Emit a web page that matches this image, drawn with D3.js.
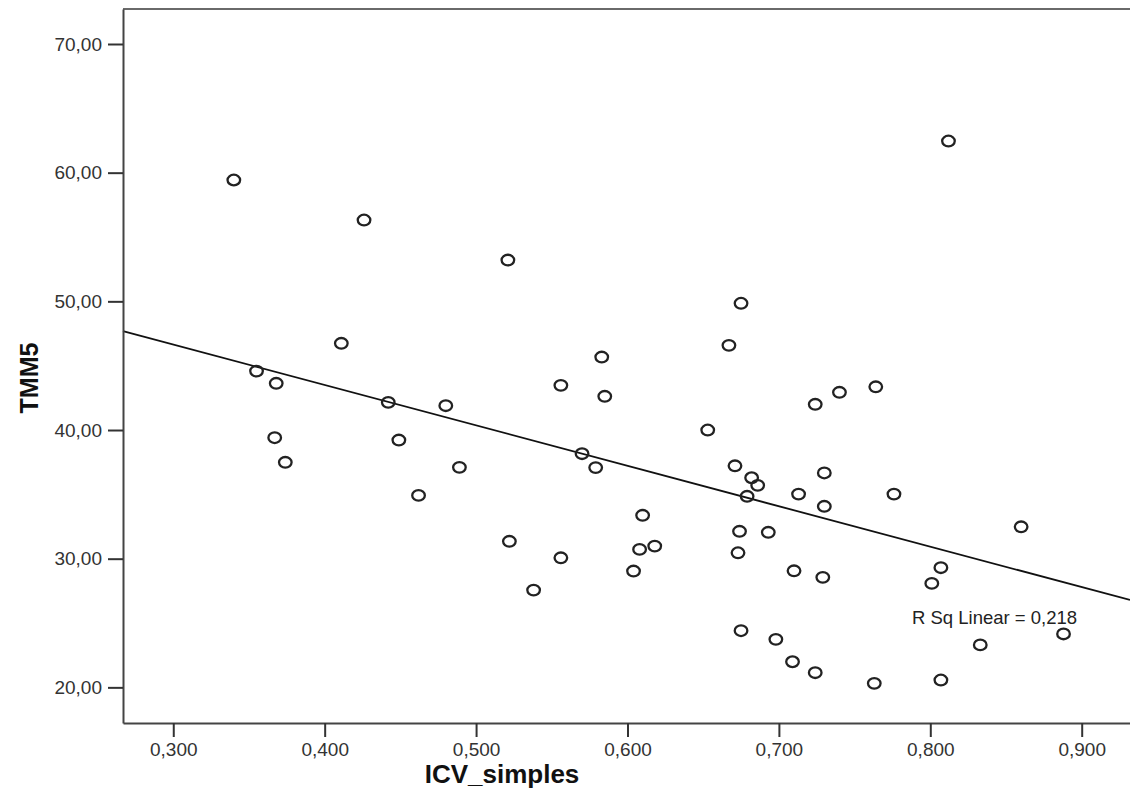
<!DOCTYPE html>
<html>
<head>
<meta charset="utf-8">
<script src="https://cdn.jsdelivr.net/npm/d3@7"></script>
<style>
    body { margin: 0; background: #fff; }
    text { font-family: "Liberation Sans", Arial, sans-serif; }
</style>
</head>
<body>
<svg width="1130" height="801"></svg>
<script>
// ICV_simples (x) and TMM5 (y)
const icv = [
    0.340, 0.426, 0.411, 0.355, 0.368, 0.442, 0.480, 0.367, 0.449, 0.374,
    0.489, 0.462, 0.521, 0.583, 0.556, 0.585, 0.570, 0.579, 0.610, 0.522,
    0.608, 0.618, 0.556, 0.604, 0.538, 0.675, 0.667, 0.740, 0.764, 0.724,
    0.653, 0.671, 0.682, 0.686, 0.679, 0.730, 0.713, 0.730, 0.776, 0.674,
    0.693, 0.673, 0.710, 0.729, 0.675, 0.698, 0.709, 0.724, 0.763, 0.812,
    0.860, 0.807, 0.801, 0.888, 0.833, 0.807
];
const tmm5 = [
    59.43, 56.32, 46.74, 44.58, 43.63, 42.15, 41.89, 39.40, 39.22, 37.49,
    37.10, 34.92, 53.21, 45.67, 43.47, 42.62, 38.16, 37.08, 33.37, 31.35,
    30.72, 30.98, 30.07, 29.04, 27.56, 49.85, 46.58, 42.93, 43.36, 42.00,
    40.00, 37.22, 36.29, 35.70, 34.85, 36.66, 35.02, 34.07, 35.02, 32.13,
    32.05, 30.46, 29.06, 28.55, 24.40, 23.73, 21.99, 21.14, 20.31, 62.46,
    32.48, 29.30, 28.08, 24.15, 23.30, 20.57
];

const xTicks = [0.3, 0.4, 0.5, 0.6, 0.7, 0.8, 0.9];
const yTicks = [20, 30, 40, 50, 60, 70];

// linear fit line as drawn (intercept, slope) and its R squared
const fitLine = [56.07, -31.42];
const rSquared = 0.218;

const margin = {top: 9, left: 123, bottom: 78};
const width = 1130;
const height = 801;

const svg = d3.select("svg");

const x = d3.scaleLinear()
    .domain([0.2668, 0.9319])
    .range([margin.left, width]);

const y = d3.scaleLinear()
    .domain([17.23, 72.72])
    .range([height - margin.bottom, margin.top]);

// comma as decimal separator
function commaFormat(digits) {
    const f = d3.format("." + digits + "f");
    return d => f(d).replace(".", ",");
}

// top frame line
svg.append("line")
    .attr("x1", margin.left)
    .attr("x2", width)
    .attr("y1", margin.top)
    .attr("y2", margin.top)
    .attr("stroke", "#6a6a6a")
    .attr("stroke-width", 2);

// fit line
const xs = x.domain();
svg.append("line")
    .attr("x1", x(xs[0]))
    .attr("y1", y(fitLine[0] + fitLine[1] * xs[0]))
    .attr("x2", x(xs[1]))
    .attr("y2", y(fitLine[0] + fitLine[1] * xs[1]))
    .attr("stroke", "#111")
    .attr("stroke-width", 1.8);

// points
svg.selectAll(".dot")
    .data(icv.map((d, i) => ({x: d, y: tmm5[i]})))
    .enter()
    .append("ellipse")
    .attr("class", "dot")
    .attr("cx", d => x(d.x))
    .attr("cy", d => y(d.y))
    .attr("rx", 6.3)
    .attr("ry", 5.3)
    .attr("fill", "none")
    .attr("stroke", "#222")
    .attr("stroke-width", 2.3);

// axes
const xAxis = svg.append("g")
    .attr("transform", "translate(0," + (height - margin.bottom) + ")")
    .call(d3.axisBottom(x)
        .tickValues(xTicks)
        .tickFormat(commaFormat(3))
        .tickSize(14)
        .tickSizeOuter(0)
        .tickPadding(6));

const yAxis = svg.append("g")
    .attr("transform", "translate(" + margin.left + ",0)")
    .call(d3.axisLeft(y)
        .tickValues(yTicks)
        .tickFormat(commaFormat(2))
        .tickSize(15)
        .tickSizeOuter(0)
        .tickPadding(6));

[xAxis, yAxis].forEach(function (g) {
    g.select(".domain").attr("stroke", "#444").attr("stroke-width", 2);
    g.selectAll(".tick line").attr("stroke", "#333").attr("stroke-width", 2);
    g.selectAll(".tick text")
        .attr("fill", "#333")
        .style("font-size", "19px")
        .style("font-family", "'Liberation Sans', Arial, sans-serif");
});

// R squared label
svg.append("text")
    .attr("x", x(0.7879))
    .attr("y", y(24.92))
    .attr("fill", "#222")
    .style("font-size", "18.5px")
    .text("R Sq Linear = " + commaFormat(3)(rSquared));

// axis titles
svg.append("text")
    .attr("x", 502)
    .attr("y", 783)
    .attr("text-anchor", "middle")
    .attr("fill", "#111")
    .style("font-size", "26px")
    .style("font-weight", "bold")
    .text("ICV_simples");

svg.append("text")
    .attr("transform", "translate(38,378) rotate(-90)")
    .attr("text-anchor", "middle")
    .attr("fill", "#111")
    .style("font-size", "25px")
    .style("font-weight", "bold")
    .text("TMM5");
</script>
</body>
</html>
